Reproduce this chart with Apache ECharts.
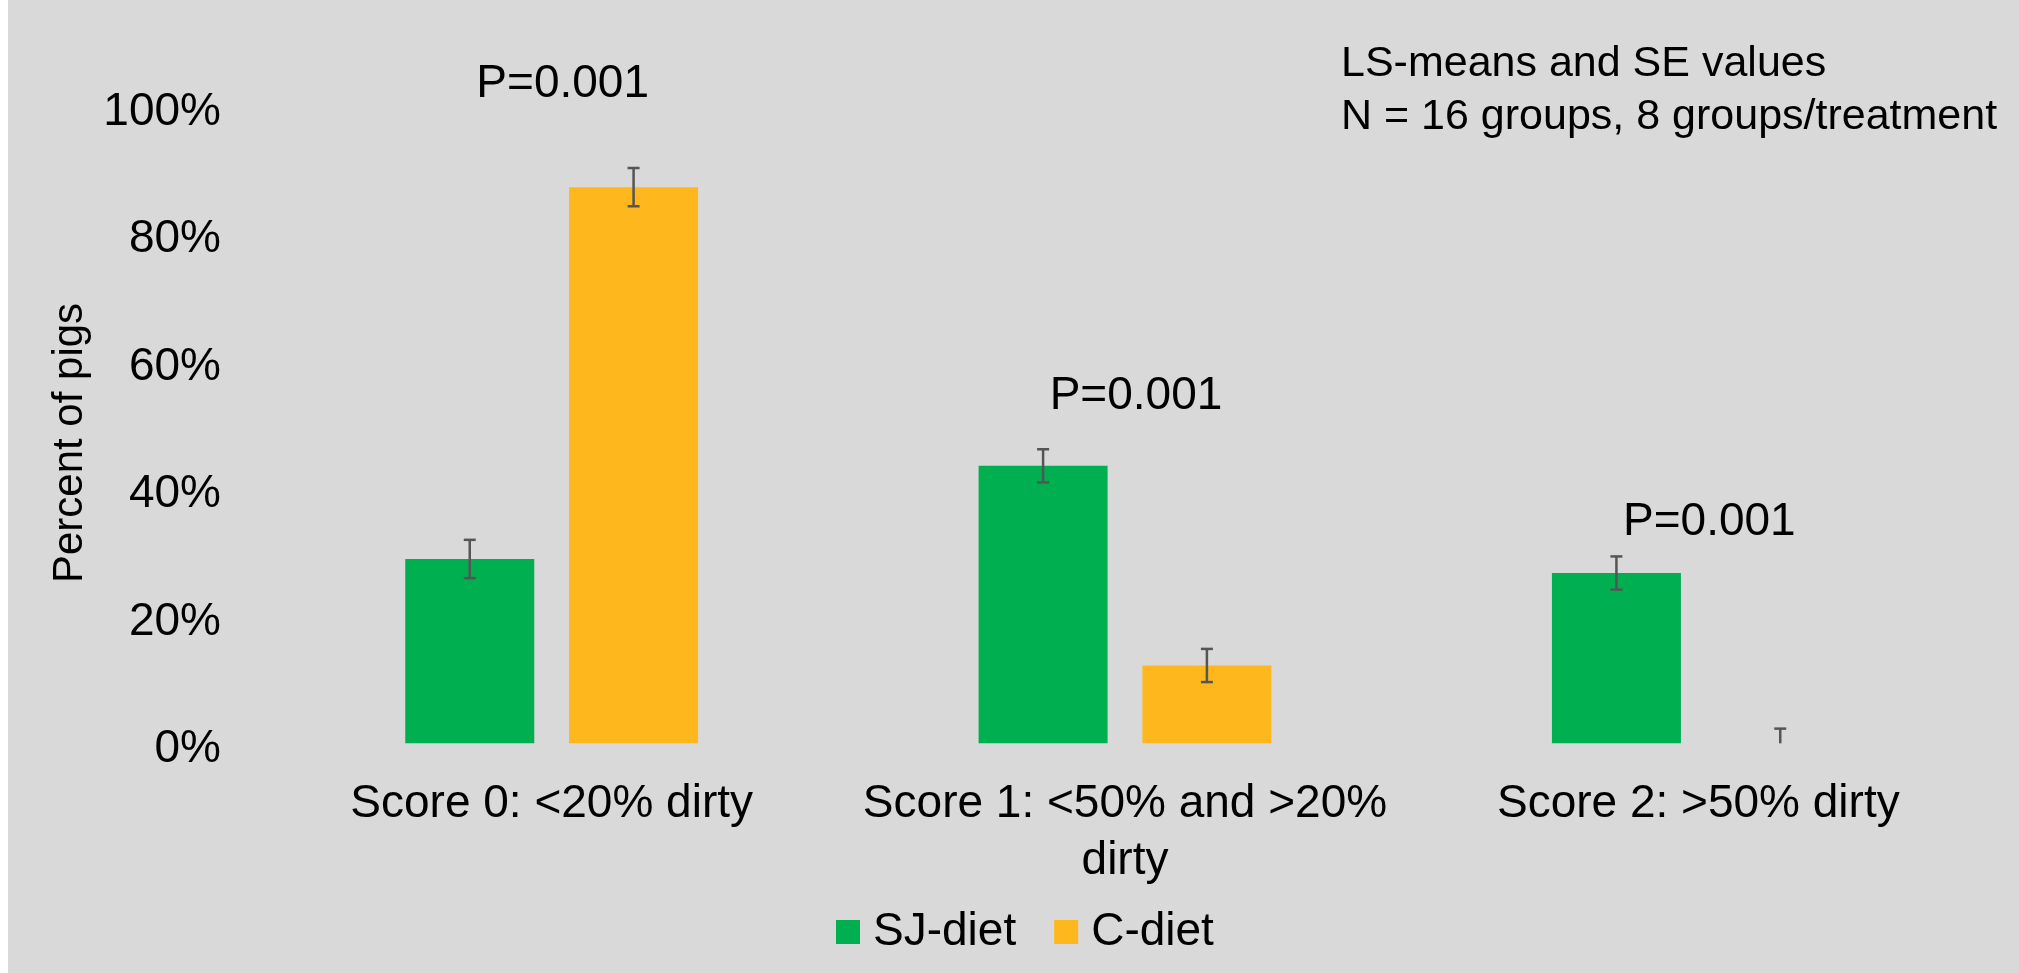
<!DOCTYPE html>
<html>
<head>
<meta charset="utf-8">
<script src="https://cdn.jsdelivr.net/npm/echarts@6/dist/echarts.min.js"></script>
<style>
  html, body { margin: 0; padding: 0; background: #fff; }
  #chart { position: absolute; left: 8px; top: 0; width: 2011px; height: 973px; }
</style>
</head>
<body>
<div id="chart"></div>
<script>
// data
const categories = ["Score 0: <20% dirty", "Score 1: <50% and >20%\ndirty", "Score 2: >50% dirty"];
const seriesNames = ["SJ-diet", "C-diet"];
const sjValues = [28.9, 43.5, 26.7];
const sjErrors = [3.0, 2.6, 2.6];
const cValues = [87.2, 12.2, 0];
const cErrors = [3.0, 2.6, 2.3];
const pTexts = ["P=0.001", "P=0.001", "P=0.001"];
const pLevels = [103.9, 55.0, 35.2];   // where the P labels sit, in % units
const yTicks = [0, 20, 40, 60, 80, 100];

const colors = ["#00AF50", "#FEB81E"];
const FONT = "'Liberation Sans', Arial, sans-serif";
const BAR_W = 129;
const GAP = 0.27;

let chart = echarts.init(document.getElementById("chart"));

// error bar series, drawn on top of the bars
function errorSeries(idx, values, errors) {
  return {
    type: "custom",
    name: seriesNames[idx] + "-err",
    z: 10,
    silent: true,
    data: values.map((v, i) => [i, v, errors[i]]),
    encode: { x: 0, y: 1 },
    renderItem: function(params, api) {
      const xi = api.value(0), v = api.value(1), e = api.value(2);
      const off = (idx - 0.5) * BAR_W * (1 + GAP);
      const hi = api.coord([xi, v + e]);
      const lo = api.coord([xi, Math.max(0, v - e)]);
      const x = hi[0] + off;
      const cap = 6;
      const style = { stroke: "#555555", lineWidth: 2.5 };
      const kids = [
        { type: "line", shape: { x1: x, y1: hi[1], x2: x, y2: lo[1] }, style: style },
        { type: "line", shape: { x1: x - cap, y1: hi[1], x2: x + cap, y2: hi[1] }, style: style }
      ];
      if (v - e > 0) {
        kids.push({ type: "line", shape: { x1: x - cap, y1: lo[1], x2: x + cap, y2: lo[1] }, style: style });
      }
      return { type: "group", children: kids };
    }
  };
}

let option = {
  backgroundColor: "#D9D9D9",
  animation: false,
  color: colors,
  textStyle: { fontFamily: FONT },
  title: {
    text: "LS-means and SE values\nN = 16 groups, 8 groups/treatment",
    left: 1328,
    top: 33,
    textStyle: { fontFamily: FONT, fontSize: 43, fontWeight: "normal", color: "#000", lineHeight: 53 }
  },
  legend: {
    data: seriesNames,
    left: 823,
    top: 904,
    icon: "rect",
    itemWidth: 24,
    itemHeight: 24,
    itemGap: 38,
    textStyle: { fontFamily: FONT, fontSize: 46, color: "#000", padding: [0, 0, 0, 8] }
  },
  grid: { left: 257, right: 34, top: 105.5, bottom: 229.7, containLabel: false },
  xAxis: {
    type: "category",
    data: categories,
    axisLine: { show: false },
    axisTick: { show: false },
    axisLabel: { fontFamily: FONT, fontSize: 46, color: "#000", margin: 33, lineHeight: 57, interval: 0 }
  },
  yAxis: {
    type: "value",
    min: yTicks[0],
    max: yTicks[yTicks.length - 1],
    interval: 20,
    splitLine: { show: false },
    axisLine: { show: false },
    axisTick: { show: false },
    axisLabel: {
      fontFamily: FONT, fontSize: 46, color: "#000", margin: 44,
      verticalAlign: "top", lineHeight: 13,
      formatter: "{value}%"
    }
  },
  graphic: [{
    type: "text",
    x: 62,
    y: 443,
    rotation: Math.PI / 2,
    style: {
      text: "Percent of pigs",
      font: "42px " + FONT,
      fill: "#000",
      align: "center",
      verticalAlign: "middle"
    }
  }],
  series: [
    { type: "bar", name: seriesNames[0], data: sjValues, barWidth: BAR_W, barGap: (GAP * 100) + "%" },
    { type: "bar", name: seriesNames[1], data: cValues, barWidth: BAR_W, barGap: (GAP * 100) + "%" },
    errorSeries(0, sjValues, sjErrors),
    errorSeries(1, cValues, cErrors),
    {
      type: "scatter",
      name: "p",
      clip: false,
      silent: true,
      symbolSize: 0,
      itemStyle: { opacity: 1 },
      data: pLevels.map((y, i) => [i, y]),
      label: {
        show: true,
        position: "inside",
        offset: [11, 4],
        opacity: 1,
        formatter: p => pTexts[p.dataIndex],
        fontFamily: FONT,
        fontSize: 46,
        color: "#000"
      }
    }
  ]
};

chart.setOption(option);
</script>
</body>
</html>
